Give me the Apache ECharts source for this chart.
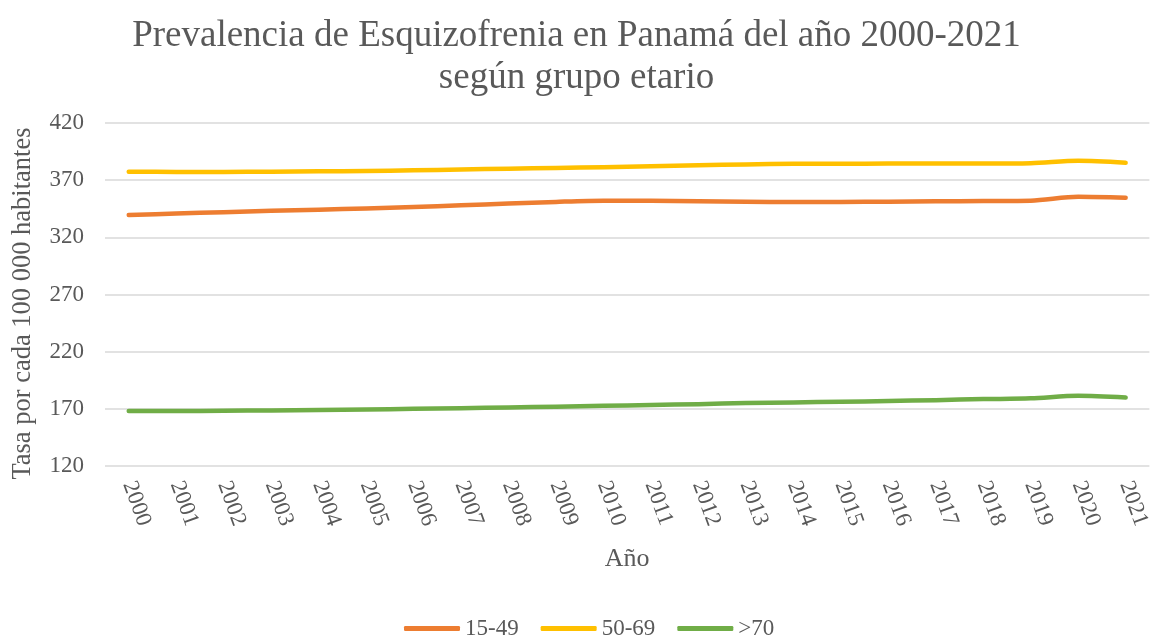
<!DOCTYPE html>
<html>
<head>
<meta charset="utf-8">
<script src="https://cdn.jsdelivr.net/npm/echarts@6/dist/echarts.min.js"></script>
<style>
  html, body { margin: 0; padding: 0; background: #fff; }
  #chart { width: 1153px; height: 637px; }
</style>
</head>
<body>
<div id="chart"></div>
<script>
const years = ['2000', '2001', '2002', '2003', '2004', '2005', '2006', '2007', '2008', '2009', '2010',
  '2011', '2012', '2013', '2014', '2015', '2016', '2017', '2018', '2019', '2020', '2021']

const group1549 = [339.5, 340.8, 342.0, 343.2, 344.2, 345.3, 346.5, 348.0, 349.5, 351.0, 352.0,
  352.0, 351.6, 351.2, 350.9, 350.9, 351.2, 351.5, 351.8, 352.1, 355.4, 354.6]
const group5069 = [377.4, 377.2, 377.2, 377.4, 377.8, 378.0, 378.6, 379.4, 380.0, 380.7, 381.3,
  382.2, 383.0, 383.8, 384.3, 384.4, 384.5, 384.5, 384.5, 384.8, 386.9, 385.2]
const group70 = [168.0, 168.0, 168.3, 168.6, 169.0, 169.4, 170.0, 170.6, 171.2, 171.9, 172.6,
  173.3, 174.1, 175.0, 175.6, 176.2, 176.8, 177.6, 178.5, 179.2, 181.4, 179.9]

const FONT = '"Liberation Serif", "Times New Roman", serif'
const TEXT_COLOR = '#595959'

const chart = echarts.init(document.getElementById('chart'))

const makeLine = (name, data, color) => ({
  name,
  type: 'line',
  data,
  color,
  smooth: 0.3,
  showSymbol: false,
  symbol: 'none',
  lineStyle: { width: 4.5, cap: 'round', join: 'round' }
})

chart.setOption({
  animation: false,
  title: {
    text: 'Prevalencia de Esquizofrenia en Panamá del año 2000-2021\nsegún grupo etario',
    left: 'center',
    top: 10,
    textStyle: {
      fontFamily: FONT,
      fontSize: 37,
      fontWeight: 'normal',
      color: TEXT_COLOR,
      lineHeight: 42
    }
  },
  legend: {
    bottom: -8,
    left: 399,
    icon: 'roundRect',
    itemWidth: 56,
    itemHeight: 5,
    itemGap: 22,
    textStyle: { fontFamily: FONT, fontSize: 23, color: TEXT_COLOR },
    data: ['15-49', '50-69', '>70']
  },
  grid: { left: 105, right: -6, top: 123, bottom: 171 },
  xAxis: {
    type: 'category',
    data: years,
    boundaryGap: true,
    name: 'Año',
    nameLocation: 'middle',
    nameGap: 80,
    nameTextStyle: { fontFamily: FONT, fontSize: 26, color: TEXT_COLOR },
    axisLine: { show: false },
    axisTick: { show: false },
    axisLabel: {
      rotate: -70,
      margin: 16,
      fontFamily: FONT,
      fontSize: 23,
      color: TEXT_COLOR
    }
  },
  yAxis: {
    type: 'value',
    min: 120,
    max: 420,
    interval: 50,
    name: 'Tasa por cada 100 000 habitantes',
    nameLocation: 'middle',
    nameGap: 68,
    nameTextStyle: { fontFamily: FONT, fontSize: 26.5, color: TEXT_COLOR, padding: [0, 18, 0, 0] },
    axisLine: { show: false },
    axisTick: { show: false },
    axisLabel: { margin: 21, fontFamily: FONT, fontSize: 23, color: TEXT_COLOR },
    splitLine: { lineStyle: { color: '#d9d9d9', width: 1.5 } }
  },
  series: [
    makeLine('15-49', group1549, '#ED7D31'),
    makeLine('50-69', group5069, '#FFC000'),
    makeLine('>70', group70, '#70AD47')
  ]
})

window.addEventListener('resize', () => chart.resize())
</script>
</body>
</html>
